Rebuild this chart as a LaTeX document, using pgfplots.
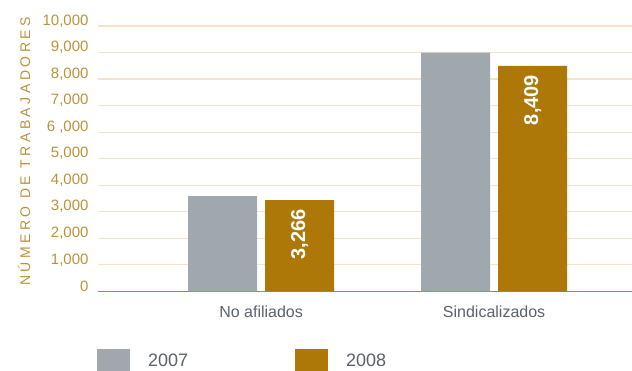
\documentclass[border=0pt]{standalone}
\usepackage{fontspec}
\setmainfont{Liberation Sans}
\usepackage{pgfplots}
\pgfplotsset{compat=1.18}
\definecolor{gbar}{HTML}{A0A7AD}
\definecolor{gold}{HTML}{AE7808}
\definecolor{ticklab}{HTML}{B8923C}
\definecolor{gridc}{HTML}{F0E4CC}
\definecolor{axisc}{HTML}{B5872A}
\definecolor{catlab}{HTML}{5A6168}
\pgfplotsset{sqlegend/.style={legend image code/.code={\fill[##1,draw=none] (0bp,-10bp) rectangle (33bp,12bp);}}}
\begin{document}
\begin{tikzpicture}[x=1bp,y=1bp]
\path[use as bounding box] (0,0) rectangle (632,370);
\begin{axis}[
  at={(98bp,78.7bp)}, anchor=south west,
  scale only axis, width=534bp, height=265.3bp,
  ymin=0, ymax=10000, xmin=-0.7, xmax=1.592,
  ybar=8bp, bar width=69bp,
  axis x line*=bottom, axis y line*=left,
  x axis line style={draw=axisc, line width=1.3bp, -},
  y axis line style={draw=none},
  major tick length=0,
  scaled y ticks=false,
  ymajorgrids, grid style={gridc, line width=1.2bp},
  ytick={0,1000,2000,3000,4000,5000,6000,7000,8000,9000,10000},
  yticklabels={0,{1,000},{2,000},{3,000},{4,000},{5,000},{6 ,000},{7,000},{8,000},{9,000},{10,000}},
  yticklabel style={font=\fontsize{15bp}{18bp}\selectfont, text=ticklab, yshift=5bp, xshift=-6bp},
  xtick={0,1}, xticklabels={No afiliados, Sindicalizados},
  xticklabel style={font=\fontsize{16bp}{19bp}\selectfont, text=catlab, yshift=-11bp},
  ylabel={\addfontfeature{LetterSpace=25}NÚMERO DE TRABAJADORES},
  every axis y label/.style={at={(axis description cs:-0.1385,0.527)}, rotate=90, anchor=center,
    font=\fontsize{14bp}{16bp}\selectfont, text=ticklab},
  legend style={at={(axis description cs:-0.002,-0.218)}, anchor=north west, draw=none, fill=none,
    inner sep=0pt, legend columns=2, font=\fontsize{18bp}{20bp}\selectfont, text=catlab,
    /tikz/every odd column/.append style={column sep=16bp},
    /tikz/every even column/.append style={column sep=105bp}},
]
\addplot[fill=gbar, draw=none, sqlegend]
  coordinates {(0,3590) (1,9000)};
\addlegendentry{2007}
\addplot[fill=gold, draw=none, sqlegend,
  point meta=explicit symbolic, nodes near coords,
  nodes near coords style={font=\bfseries\fontsize{20bp}{22bp}\selectfont, text=white,
    rotate=90, anchor=east, inner xsep=9bp}]
  coordinates {(0,3440) [3{,}266] (1,8500) [8{,}409]};
\addlegendentry{2008}
\end{axis}
\end{tikzpicture}
\end{document}
